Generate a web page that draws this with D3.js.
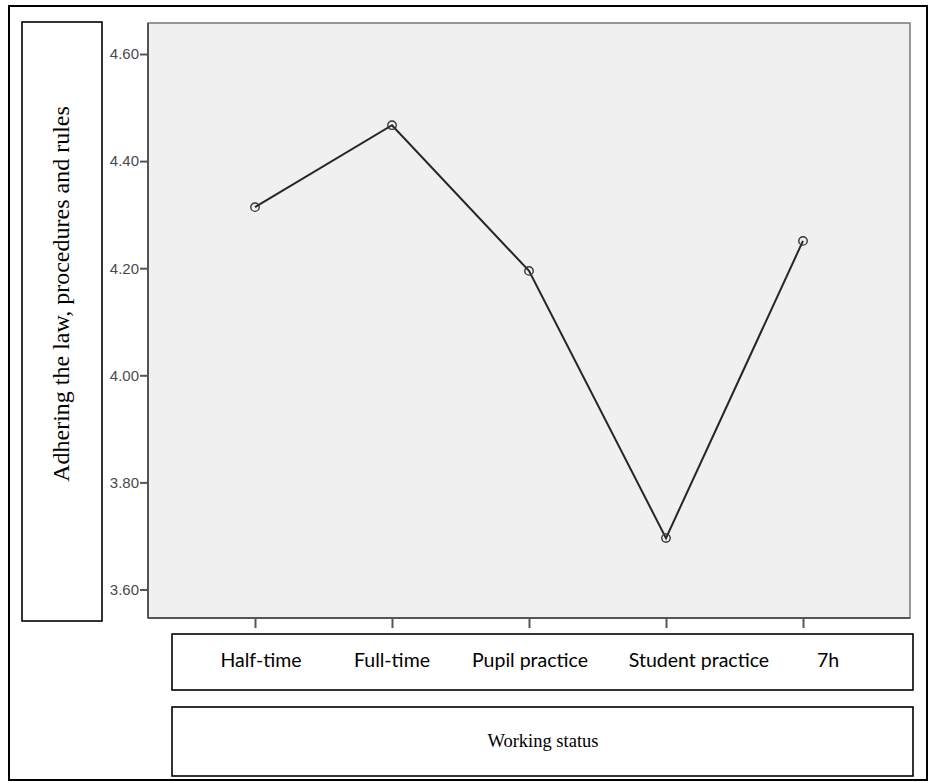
<!DOCTYPE html>
<html><head><meta charset="utf-8">
<script src="https://cdn.jsdelivr.net/npm/d3@7"></script>
<style>body{margin:0;background:#fff}svg{display:block}</style>
</head><body>
<script>
const categories = ["Half-time","Full-time","Pupil practice","Student practice","7h"];
const values = [4.314, 4.467, 4.195, 3.696, 4.251];
const yTicks = [3.60, 3.80, 4.00, 4.20, 4.40, 4.60];
const yTitle = "Adhering the law, procedures and rules";
const xTitle = "Working status";

const W = 930, H = 783;
const svg = d3.select("body").append("svg").attr("width", W).attr("height", H);

// outer frame
svg.append("rect").attr("x",9).attr("y",6).attr("width",918).attr("height",774)
  .attr("fill","none").attr("stroke","#000").attr("stroke-width",2);

const plot = {l:148, t:23, r:910, b:618};
svg.append("rect").attr("x",plot.l).attr("y",plot.t).attr("width",plot.r-plot.l).attr("height",plot.b-plot.t)
  .attr("fill","#f0f0f0").attr("stroke","#777").attr("stroke-width",1.5);

const x = d3.scalePoint().domain(categories).range([plot.l, plot.r]).padding(0.781);
const y = d3.scaleLinear().domain([3.6, 4.6]).range([589.5, 54]);

// y axis
const ya = svg.append("g").attr("transform",`translate(${plot.l},0)`)
  .call(d3.axisLeft(y).tickValues(yTicks).tickFormat(d3.format(".2f")).tickSize(8).tickPadding(1));
ya.select(".domain").attr("d",`M0,${plot.t}V${plot.b}`).attr("stroke","#555").attr("stroke-width",2);
ya.selectAll(".tick line").attr("stroke","#555").attr("stroke-width",2);
ya.selectAll(".tick text").attr("fill","#4a4a4a").style("font-family","Liberation Sans, Arial").style("font-size","15px");

// x axis ticks
const xa = svg.append("g").attr("transform",`translate(0,${plot.b})`)
  .call(d3.axisBottom(x).tickSize(10).tickFormat(""));
xa.select(".domain").attr("d",`M${plot.l},0H${plot.r}`).attr("stroke","#555").attr("stroke-width",2);
xa.selectAll(".tick line").attr("stroke","#555").attr("stroke-width",2);

// line
svg.append("path").datum(values)
  .attr("d", d3.line().x((d,i)=>x(categories[i])).y(d=>y(d)))
  .attr("fill","none").attr("stroke","#262626").attr("stroke-width",2);
svg.selectAll("circle.pt").data(values).join("circle").attr("class","pt")
  .attr("cx",(d,i)=>x(categories[i])).attr("cy",d=>y(d)).attr("r",4.2)
  .attr("fill","none").attr("stroke","#333").attr("stroke-width",1.4);

// y title box
svg.append("rect").attr("x",22).attr("y",22).attr("width",80).attr("height",599)
  .attr("fill","#fff").attr("stroke","#000").attr("stroke-width",1.6);
svg.append("text").attr("transform","translate(69,294) rotate(-90)")
  .attr("text-anchor","middle").style("font-family","Liberation Serif, Times New Roman").style("font-size","24px")
  .attr("fill","#000").text(yTitle);

// category label box
svg.append("rect").attr("x",172).attr("y",634).attr("width",741).attr("height",56)
  .attr("fill","#fff").attr("stroke","#000").attr("stroke-width",1.6);
const labelShift = [6, 0, 1, 33, 25];
svg.selectAll("text.cat").data(categories).join("text").attr("class","cat")
  .attr("x",(d,i)=>x(d)+labelShift[i]).attr("y",667)
  .attr("text-anchor","middle").style("font-family","Lato, Open Sans").style("font-size","19.5px")
  .attr("fill","#000").text(d=>d);

// x title box
svg.append("rect").attr("x",172).attr("y",707).attr("width",741).attr("height",69)
  .attr("fill","#fff").attr("stroke","#000").attr("stroke-width",1.6);
svg.append("text").attr("x",543).attr("y",747).attr("text-anchor","middle")
  .style("font-family","Liberation Serif, Times New Roman").style("font-size","18.5px")
  .attr("fill","#000").text(xTitle);
</script>
</body></html>
